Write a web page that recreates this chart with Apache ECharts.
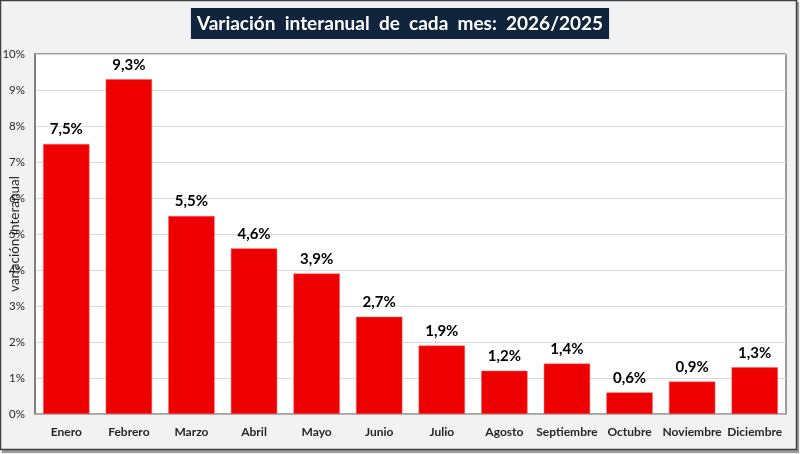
<!DOCTYPE html>
<html><head><meta charset="utf-8">
<script src="https://cdn.jsdelivr.net/npm/echarts@6/dist/echarts.min.js"></script>
<style>html,body{margin:0;padding:0;background:#fff}#c{width:800px;height:454px}</style>
</head><body><div id="c"></div>
<script>
const categories = ['Enero','Febrero','Marzo','Abril','Mayo','Junio','Julio','Agosto','Septiembre','Octubre','Noviembre','Diciembre'];
const values = [7.5, 9.3, 5.5, 4.6, 3.9, 2.7, 1.9, 1.2, 1.4, 0.6, 0.9, 1.3];
const yTicks = [0,1,2,3,4,5,6,7,8,9,10];
const titleText = 'Variación  interanual  de  cada  mes:  2026/2025';
const yName = 'variación interanual';

const chart = echarts.init(document.getElementById('c'));
const font = 'Lato, "Open Sans", sans-serif';
chart.setOption({
  backgroundColor: '#f2f2f2',
  animation: false,
  graphic: [
    {type:'rect', shape:{x:2,y:2,width:797,height:451}, style:{fill:'#9a9a9a'}, z:-2, silent:true},
    {type:'rect', shape:{x:0.5,y:0.5,width:796,height:449}, style:{fill:'#f2f2f2', stroke:'#404040', lineWidth:1.5}, z:-1, silent:true}
  ],
  title: {
    text: titleText,
    left: 'center', top: 8,
    backgroundColor: '#10243e',
    padding: [5, 6, 4, 6],
    textStyle: {color:'#fff', fontSize:19, fontWeight:'bold', fontFamily:font, lineHeight:22}
  },
  grid: {left:35, right:14, top:54, bottom:40, show:true, backgroundColor:'#fff', borderColor:'#404040', borderWidth:1,
    containLabel:false, outerBoundsMode:'none'},
  xAxis: {
    type:'category', data: categories,
    axisLine:{lineStyle:{color:'#a6a6a6', width:1.5}},
    axisTick:{show:false},
    axisLabel:{color:'#262626', fontSize:12, fontWeight:'bold', fontFamily:font, margin:12, interval:0}
  },
  yAxis: {
    type:'value', min: yTicks[0], max: yTicks[yTicks.length-1], interval:1,
    name: yName, nameLocation:'middle', nameGap:13, nameRotate:90, nameMoveOverlap:false,
    nameTextStyle:{color:'#262626', fontSize:13.5, fontFamily:font},
    axisLine:{show:true, lineStyle:{color:'#808080', width:2}},
    axisTick:{show:false},
    splitLine:{lineStyle:{color:'#d9d9d9', width:1}},
    axisLabel:{color:'#262626', fontSize:11.5, fontFamily:font, margin:10, formatter: v => v + '%'}
  },
  series: [{
    type:'bar', data: values, barWidth:'74%',
    itemStyle:{color:'#ee0000', borderColor:'#f46060', borderWidth:0.5},
    label:{show:true, position:'top', distance:7, color:'#000', fontSize:15, fontWeight:'bold', fontFamily:font,
      formatter: p => p.value.toFixed(1).replace('.', ',') + '%'}
  }]
});
</script></body></html>
